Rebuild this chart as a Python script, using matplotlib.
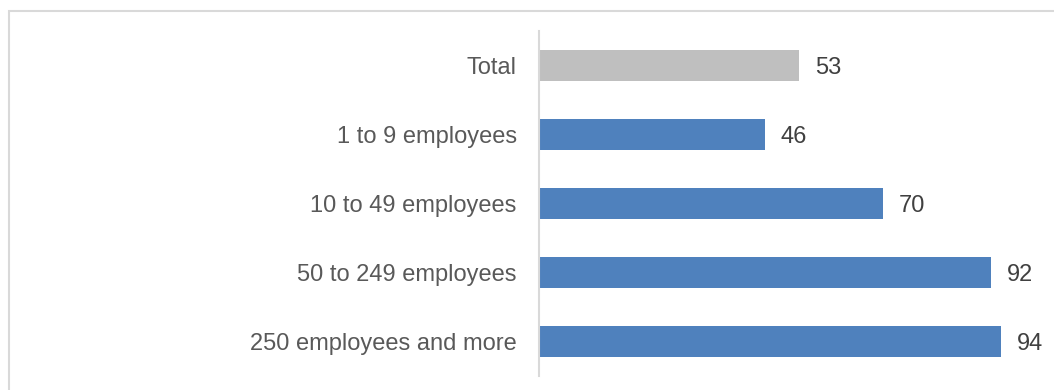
import matplotlib
matplotlib.use("Agg")
import matplotlib.pyplot as plt
from matplotlib.patches import Rectangle

plt.rcParams['font.family'] = ['Liberation Sans', 'DejaVu Sans']

categories = ["Total", "1 to 9 employees", "10 to 49 employees",
              "50 to 249 employees", "250 employees and more"]
values = [53, 46, 70, 92, 94]
colors = ["#bfbfbf", "#4f81bd", "#4f81bd", "#4f81bd", "#4f81bd"]

fig = plt.figure(figsize=(10.54, 3.9), dpi=100)
ax = fig.add_axes([539 / 1054, 1 - 376 / 390, 491 / 1054, 345 / 390])

y = list(range(len(categories)))
bars = ax.barh(y, values, height=0.45, color=colors)
labels = ax.bar_label(bars, labels=[str(v) for v in values], padding=11.5,
                      fontsize=17, color="#404040")
for t in labels:
    t.set_va('center_baseline')

ax.set_xlim(0, 100)
ax.set_ylim(len(categories) - 0.5, -0.5)
ax.set_yticks(y)
ax.set_yticklabels(categories, fontsize=17, color="#595959")
ax.tick_params(axis='y', length=0, pad=16)
ax.set_xticks([])

for side in ['top', 'right', 'bottom']:
    ax.spines[side].set_visible(False)
ax.spines['left'].set_color("#d9d9d9")
ax.spines['left'].set_linewidth(1.5)

# outer chart frame, running off the right and bottom edges
fig.patches.append(Rectangle((9 / 1054, -0.1), 1.2, 1 - 11 / 390 + 0.1,
                             transform=fig.transFigure, fill=False,
                             edgecolor="#d9d9d9", linewidth=1.5))

fig.savefig("out.png", dpi=100)
